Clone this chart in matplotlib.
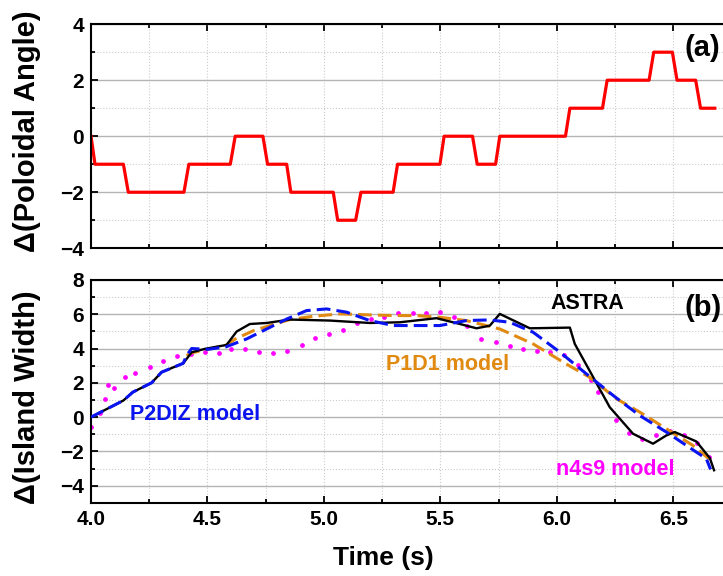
#!/usr/bin/env python3
"""Two-panel time trace: poloidal angle change and island width change vs time."""

import matplotlib
matplotlib.use("Agg")
import matplotlib.pyplot as plt
from matplotlib.ticker import MultipleLocator

# (a) poloidal angle change
t_angle = [4.0, 4.017, 4.139, 4.16, 4.399, 4.42, 4.598, 4.619, 4.738, 4.758, 4.84, 4.858,
           5.04, 5.059, 5.136, 5.159, 5.297, 5.316, 5.498, 5.516, 5.638, 5.658, 5.737, 5.755,
           6.037, 6.056, 6.196, 6.216, 6.396, 6.416, 6.496, 6.516, 6.596, 6.617, 6.678]
d_angle = [0, -1, -1, -2, -2, -1, -1, 0, 0, -1, -1, -2,
           -2, -3, -3, -2, -2, -1, -1, 0, 0, -1, -1, 0,
           0, 1, 1, 2, 2, 3, 3, 2, 2, 1, 1]

# (b) island width change
t_astra = [4.0, 4.139, 4.18, 4.26, 4.303, 4.396, 4.432, 4.489, 4.582, 4.625, 4.682, 4.754,
           4.854, 5.026, 5.197, 5.326, 5.483, 5.584, 5.655, 5.712, 5.755, 5.884, 6.056, 6.077,
           6.156, 6.227, 6.327, 6.413, 6.47, 6.506, 6.599, 6.657, 6.675]
w_astra = [0, 0.97, 1.46, 2.0, 2.62, 3.14, 3.78, 3.98, 4.21, 4.99, 5.43, 5.49,
           5.69, 5.63, 5.49, 5.53, 5.77, 5.43, 5.18, 5.33, 6.02, 5.18, 5.22, 4.27,
           2.33, 0.58, -0.97, -1.55, -1.07, -0.87, -1.42, -2.39, -3.1]

t_p2diz = [4.0, 4.139, 4.18, 4.26, 4.303, 4.396, 4.41, 4.432, 4.5, 4.58, 4.668, 4.754,
           4.84, 4.925, 5.011, 5.097, 5.197, 5.298, 5.4, 5.498, 5.612, 5.712, 5.798, 5.898,
           6.013, 6.127, 6.242, 6.356, 6.47, 6.556, 6.642, 6.66]
w_p2diz = [0, 0.97, 1.46, 2.0, 2.62, 3.14, 3.59, 4.0, 3.95, 4.1, 4.56, 5.14,
           5.72, 6.21, 6.31, 6.12, 5.63, 5.34, 5.34, 5.34, 5.63, 5.67, 5.53, 4.95,
           3.79, 2.52, 1.26, 0.09, -0.87, -1.65, -2.43, -3.05]

t_p1d1 = [4.41, 4.432, 4.5, 4.58, 4.62, 4.697, 4.768, 4.854, 4.954, 5.069, 5.197, 5.312,
          5.4, 5.498, 5.612, 5.755, 5.898, 6.04, 6.14, 6.256, 6.356, 6.47, 6.584, 6.655]
w_p1d1 = [3.59, 3.75, 3.95, 4.2, 4.56, 5.04, 5.34, 5.69, 5.88, 6.02, 5.96, 5.92,
          5.92, 5.82, 5.63, 5.14, 4.27, 3.1, 2.33, 1.07, 0.29, -0.68, -1.65, -2.45]

t_n4s9 = [4.0, 4.04, 4.06, 4.074, 4.1, 4.146, 4.19, 4.253, 4.31, 4.37, 4.43, 4.49,
          4.55, 4.6, 4.66, 4.72, 4.78, 4.84, 4.904, 4.96, 5.02, 5.08, 5.143, 5.2,
          5.26, 5.32, 5.383, 5.44, 5.5, 5.558, 5.616, 5.676, 5.738, 5.798, 5.856, 5.914,
          5.97, 6.03, 6.09, 6.146, 6.175, 6.256, 6.31, 6.366, 6.427, 6.485, 6.544, 6.6, 6.655]
w_n4s9 = [-0.58, 0.25, 1.07, 1.88, 1.68, 2.33, 2.6, 2.91, 3.3, 3.55, 3.7, 3.78,
          3.76, 3.95, 3.95, 3.78, 3.72, 3.86, 4.21, 4.6, 4.85, 5.1, 5.47, 5.72,
          5.82, 6.1, 6.1, 6.1, 6.14, 5.82, 5.34, 4.56, 4.37, 4.13, 3.98, 3.88,
          3.82, 3.63, 3.04, 2.18, 1.46, -0.19, -0.91, -1.26, -1.03, -0.83, -1.03, -1.5, -2.3]

xticks = [4.0, 4.5, 5.0, 5.5, 6.0, 6.5]

ORANGE = "#E08A12"
BLUE = "#0A14F0"
MAGENTA = "#FF00FF"

plt.rcParams["font.family"] = ["Liberation Sans", "DejaVu Sans"]
plt.rcParams["font.weight"] = "bold"

fig = plt.figure(figsize=(7.23, 5.76), dpi=100)
ax1 = fig.add_axes([0.1259, 0.569, 0.902, 0.389])
ax2 = fig.add_axes([0.1259, 0.127, 0.902, 0.387])


def style_axis(ax):
    ax.set_xlim(4.0, 6.8)
    ax.xaxis.set_major_locator(MultipleLocator(0.5))
    ax.xaxis.set_minor_locator(MultipleLocator(0.25))
    ax.yaxis.set_major_locator(MultipleLocator(2))
    ax.yaxis.set_minor_locator(MultipleLocator(1))
    ax.grid(axis="y", which="major", color="#b4b4b4", lw=1.0, ls="-")
    ax.grid(axis="y", which="minor", color="#cccccc", lw=0.8, ls=":")
    ax.grid(axis="x", which="both", color="#cccccc", lw=0.8, ls=":")
    ax.set_axisbelow(True)
    ax.tick_params(which="both", direction="in", top=True, right=True, width=1.3)
    ax.tick_params(which="major", length=5, labelsize=15, pad=5)
    ax.tick_params(which="minor", length=3)
    for sp in ax.spines.values():
        sp.set_linewidth(1.5)
    for lbl in ax.get_yticklabels() + ax.get_xticklabels():
        lbl.set_fontweight("bold")


# top panel
ax1.plot(t_angle, d_angle, color="#FF0000", lw=2.3)
style_axis(ax1)
ax1.set_ylim(-4, 4)
ax1.tick_params(labelbottom=False)
ax1.set_ylabel("\u0394(Poloidal Angle)", fontsize=21, fontweight="bold")
ax1.yaxis.set_label_coords(-0.076, 0.522)
ax1.text(6.55, 3.15, "(a)", fontsize=21, fontweight="bold", va="center", ha="left")

# bottom panel
ax2.plot(t_astra, w_astra, color="black", lw=1.7, zorder=4)
ax2.plot(t_p1d1, w_p1d1, color=ORANGE, lw=2.2, ls=(0, (4.5, 2)), zorder=3)
ax2.plot(t_p2diz, w_p2diz, color=BLUE, lw=2.2, ls=(0, (4.5, 2)), zorder=5)
ax2.plot(t_n4s9, w_n4s9, ls="none", marker="o", ms=2.4, color=MAGENTA, zorder=2)
style_axis(ax2)
ax2.set_ylim(-5, 8)
ax2.set_xticks(xticks)
ax2.set_xticklabels([f"{x:.1f}" for x in xticks], fontweight="bold")
ax2.set_xlabel("Time (s)", fontsize=19, fontweight="bold")
ax2.xaxis.set_label_coords(0.449, -0.195)
ax2.set_ylabel("\u0394(Island Width)", fontsize=21, fontweight="bold")
ax2.yaxis.set_label_coords(-0.076, 0.475)

ax2.text(6.13, 6.0, "ASTRA", fontsize=15.5, fontweight="bold", color="black",
         ha="center", va="bottom")
ax2.text(5.53, 3.05, "P1D1 model", fontsize=15.5, fontweight="bold", color=ORANGE,
         ha="center", va="center")
ax2.text(4.446, 0.13, "P2DIZ model", fontsize=15.5, fontweight="bold", color=BLUE,
         ha="center", va="center")
ax2.text(6.25, -3.07, "n4s9 model", fontsize=15.5, fontweight="bold", color=MAGENTA,
         ha="center", va="center")
ax2.text(6.55, 6.37, "(b)", fontsize=21, fontweight="bold", va="center", ha="left")

fig.savefig("out.png", dpi=100)
